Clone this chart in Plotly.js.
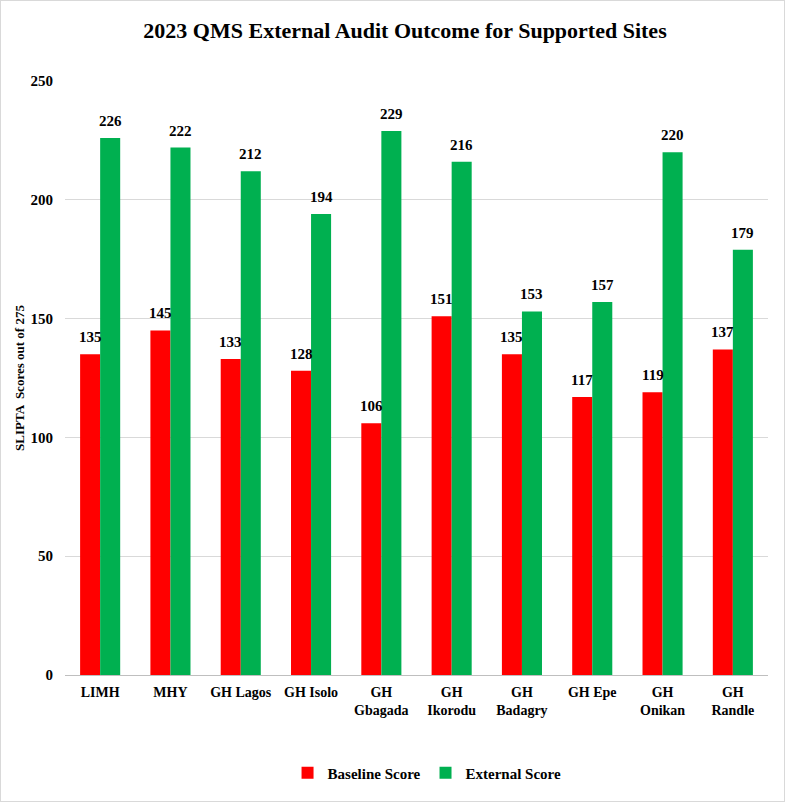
<!DOCTYPE html>
<html><head><meta charset="utf-8">
<script src="https://cdn.plot.ly/plotly-3.0.1.min.js"></script>
<style>html,body{margin:0;padding:0;background:#fff;}#chart{width:783px;height:800px;border:1px solid #d9d9d9;}</style>
</head><body><div id="chart"></div>
<script>
const categories = ["LIMH","MHY","GH Lagos","GH Isolo","GH<br>Gbagada","GH<br>Ikorodu","GH<br>Badagry","GH Epe","GH<br>Onikan","GH<br>Randle"];
const baseline = [135,145,133,128,106,151,135,117,119,137];
const external = [226,222,212,194,229,216,153,157,220,179];
const font = "'Liberation Serif','Times New Roman',serif";
const lblFont = {family:font,size:15,color:'#000',weight:'bold'};
const traces = [
 {type:'bar',name:'Baseline Score',x:categories,y:baseline,marker:{color:'#ff0000'}},
 {type:'bar',name:'External Score',x:categories,y:external,marker:{color:'#00b050'}}
];
const annotations = [];
[[baseline,-10],[external,10]].forEach(([arr,dx])=>{
  arr.forEach((v,i)=>annotations.push({x:categories[i],y:v,xref:'x',yref:'y',text:'<b>'+v+'</b>',showarrow:false,xshift:dx,yshift:17,font:lblFont}));
});
const layout = {
 width:783,height:800,
 margin:{l:64,r:16,t:80,b:124},
 paper_bgcolor:'#fff',plot_bgcolor:'#fff',
 font:{family:font,color:'#000'},
 title:{text:'<b>2023 QMS External Audit Outcome for Supported Sites</b>',font:{family:font,size:22,color:'#000'},x:0.516,xanchor:'center',y:0.963,yanchor:'middle'},
 barmode:'group',bargap:0.43,bargroupgap:0,
 annotations:annotations,
 xaxis:{tickfont:{family:font,size:14,color:'#000',weight:'bold'},showline:true,linecolor:'#bfbfbf',ticks:'outside',ticklen:4,tickcolor:'rgba(0,0,0,0)',automargin:false},
 yaxis:{range:[0,250],dtick:50,tickfont:{family:font,size:15,color:'#000',weight:'bold'},showgrid:true,gridcolor:'#d9d9d9',zeroline:false,showline:false,ticks:'outside',ticklen:8,tickcolor:'rgba(0,0,0,0)',automargin:false,
  title:{text:'<b>SLIPTA  Scores out of 275</b>',font:{family:font,size:13,color:'#000'},standoff:2}},
 legend:{orientation:'h',x:0.515,xanchor:'center',y:-0.165,yanchor:'middle',font:{family:font,size:15,color:'#000',weight:'bold'},itemwidth:30},
 showlegend:true
};
Plotly.newPlot('chart',traces,layout,{displayModeBar:false});
</script></body></html>
